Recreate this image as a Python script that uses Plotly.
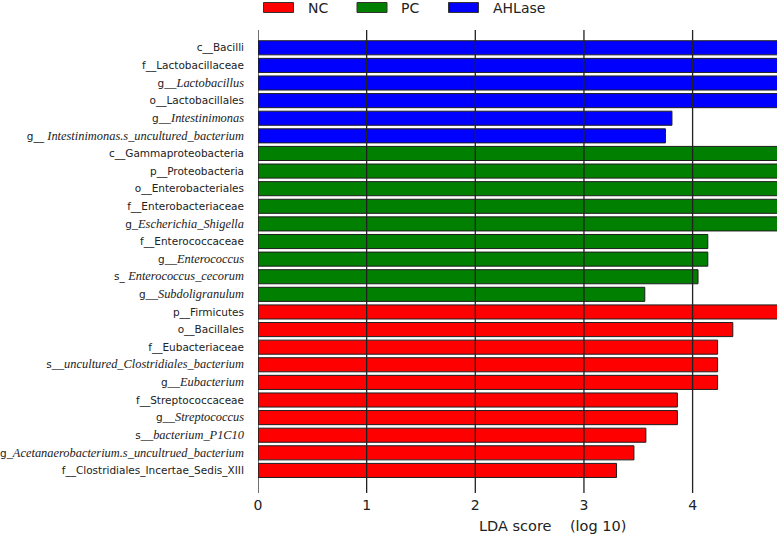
import plotly.graph_objects as go

# ---- data (top to bottom) ----
prefixes = ["c__", "f__", "g", "o__", "g", "g__ ",
            "c__", "p__", "o__", "f__", "g", "f__", "g", "s_ ", "g",
            "p__", "o__", "f__", "s", "g", "f__", "g", "s", "g", "f__"]
names = ["Bacilli", "Lactobacillaceae", "__Lactobacillus", "Lactobacillales", "__Intestinimonas",
         "Intestinimonas.s_uncultured_bacterium",
         "Gammaproteobacteria", "Proteobacteria", "Enterobacteriales", "Enterobacteriaceae",
         "_Escherichia_Shigella", "Enterococcaceae", "__Enterococcus", "Enterococcus_cecorum",
         "__Subdoligranulum",
         "Firmicutes", "Bacillales", "Eubacteriaceae", "__uncultured_Clostridiales_bacterium",
         "__Eubacterium", "Streptococcaceae", "__Streptococcus", "__bacterium_P1C10",
         "_Acetanaerobacterium.s_uncultrued_bacterium", "Clostridiales_Incertae_Sedis_XIII"]
italic = [False, False, True, False, True, True,
          False, False, False, False, True, False, True, True, True,
          False, False, False, True, True, False, True, True, True, False]
groups = ["AHLase"] * 6 + ["PC"] * 9 + ["NC"] * 10
lda_scores = [5.08, 5.06, 5.06, 5.05, 3.81, 3.75,
              5.02, 5.01, 5.00, 5.00, 4.99, 4.14, 4.14, 4.05, 3.56,
              5.10, 4.37, 4.23, 4.23, 4.23, 3.86, 3.86, 3.57, 3.46, 3.30]

legend_groups = ["NC", "PC", "AHLase"]
group_colors = {"NC": "#FF0000", "PC": "#007F00", "AHLase": "#0000FF"}
x_ticks = [0, 1, 2, 3, 4]

# ---- build ----
W, H = 777, 535
ML, MR, MT, MB = 258, 0, 30, 42
plot_w = W - ML - MR
plot_h = H - MT - MB
px_per_unit = 108.65
x_max = plot_w / px_per_unit
row_px = 17.61
n = len(names)
top_pad = 17.8 / row_px
y_top = -top_pad
y_bottom = y_top + plot_h / row_px

cats = [f"t{i}" for i in range(n)]


def make_label(p, nm, it):
    if it:
        return (p + '<span style="font-family:Liberation Serif;font-size:12.4px;font-style:italic">'
                + nm + '</span>')
    return p + nm


ticktext = [make_label(p, nm, it) for p, nm, it in zip(prefixes, names, italic)]

fig = go.Figure()
for g in legend_groups:
    ys = [c for c, gg in zip(cats, groups) if gg == g]
    xs = [v for v, gg in zip(lda_scores, groups) if gg == g]
    fig.add_trace(go.Bar(
        x=xs, y=ys, orientation="h", name=g,
        marker=dict(color=group_colors[g], line=dict(color="#1e1e1e", width=1)),
        width=0.8, showlegend=False,
    ))

# grid lines on top of bars
for t in x_ticks:
    fig.add_shape(type="line", xref="x", yref="paper", x0=t, x1=t, y0=0, y1=1,
                  line=dict(color="#222222", width=1.3), layer="above")


def px2paper_x(px):
    return (px - ML) / plot_w


def px2paper_y(py):
    return (H - MB - py) / plot_h


# custom legend
legend_x = [263.5, 357, 448.5]
for g, lx in zip(legend_groups, legend_x):
    fig.add_shape(type="rect", xref="paper", yref="paper",
                  x0=px2paper_x(lx), x1=px2paper_x(lx + 30),
                  y0=px2paper_y(12.5), y1=px2paper_y(2.5),
                  fillcolor=group_colors[g], line=dict(color="#333333", width=1))
    fig.add_annotation(xref="paper", yref="paper", x=px2paper_x(lx + 42), y=px2paper_y(7.5),
                       text=g, showarrow=False, xanchor="left", yanchor="middle",
                       font=dict(family="DejaVu Sans", size=14, color="#222222"))

fig.add_annotation(xref="paper", yref="paper", x=px2paper_x(552.5), y=px2paper_y(525.5),
                   text="LDA score\u00a0\u00a0\u00a0\u00a0(log 10)", showarrow=False,
                   xanchor="center", yanchor="middle",
                   font=dict(family="DejaVu Sans", size=14.5, color="#222222"))

fig.update_layout(
    width=W, height=H,
    margin=dict(l=ML, r=MR, t=MT, b=MB, pad=0, autoexpand=False),
    plot_bgcolor="white", paper_bgcolor="white",
    barmode="overlay",
    xaxis=dict(range=[0, x_max], tickvals=x_ticks, ticktext=[str(t) for t in x_ticks],
               showgrid=False, zeroline=False, showline=False, ticks="", automargin=False,
               tickfont=dict(family="DejaVu Sans", size=14, color="#222222"),
               ticklabelstandoff=2),
    yaxis=dict(type="category", categoryorder="array", categoryarray=cats,
               range=[y_bottom, y_top], tickvals=cats, ticktext=ticktext,
               showgrid=False, zeroline=False, showline=False, ticks="", automargin=False,
               tickfont=dict(family="DejaVu Sans", size=10.5, color="#222222"),
               ticklabelstandoff=13),
)

fig.write_html("out.html", config={"displayModeBar": False},
               post_script="document.body.style.margin='0';document.body.style.overflow='hidden';")
